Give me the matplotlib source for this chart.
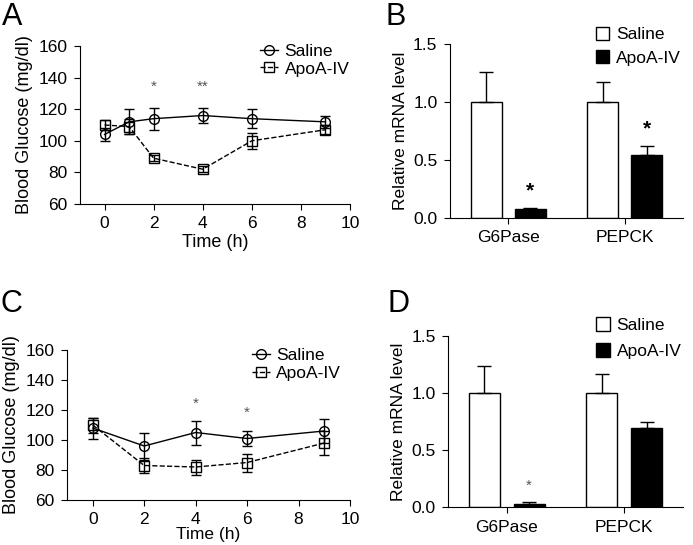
import matplotlib
matplotlib.use("Agg")
import matplotlib.pyplot as plt
from matplotlib.lines import Line2D
import numpy as np

plt.rcParams['font.family'] = ['Liberation Sans', 'DejaVu Sans']

# Panel A: blood glucose time course
t_a = [0, 1, 2, 4, 6, 9]
sal_a = [104, 112, 114, 116, 114, 112]
sal_a_err = [4, 8, 7, 5, 6, 4]
apo_a = [110, 109, 89, 82, 100, 107]
apo_a_err = [3, 5, 2, 2, 5, 3]
star_a_x = [2, 4]
star_a_txt = ['*', '**']
star_a_y = [134, 134]

# Panel C: blood glucose time course
t_c = [0, 2, 4, 6, 9]
sal_c = [108, 96, 105, 101, 106]
sal_c_err = [7, 9, 8, 5, 8]
apo_c = [110, 83, 82, 85, 98]
apo_c_err = [5, 5, 5, 6, 8]
star_c_x = [4, 6]
star_c_txt = ['*', '*']
star_c_y = [124, 118]

# Panels B and D: mRNA levels
genes = ['G6Pase', 'PEPCK']
sal_b = [1.0, 1.0]
sal_b_err = [0.26, 0.17]
apo_b = [0.08, 0.54]
apo_b_err = [0.005, 0.08]
star_b = ['*', '*']

sal_d = [1.0, 1.0]
sal_d_err = [0.24, 0.17]
apo_d = [0.03, 0.69]
apo_d_err = [0.01, 0.06]
star_d = ['*', '']

W, H = 693, 545
fig = plt.figure(figsize=(W / 100, H / 100), dpi=100)


def px_rect(l, r, t, b):
    return [l / W, 1 - b / H, (r - l) / W, (b - t) / H]


def letter(s, x, y):
    fig.text(x / W, 1 - y / H, s, fontsize=22, va='baseline', ha='left')


def style(ax):
    ax.spines['top'].set_visible(False)
    ax.spines['right'].set_visible(False)
    ax.tick_params(direction='out', labelsize=12.5, length=4, pad=5)


def time_panel(rect, t, sal, sal_err, apo, apo_err, sx, stxt, sy, lx, ly, xpad, xfs):
    ax = fig.add_axes(rect)
    ax.errorbar(t, sal, yerr=sal_err, color='k', lw=1, marker='o', ms=7,
                mfc='none', mec='k', capsize=3.5, elinewidth=1)
    ax.errorbar(t, apo, yerr=apo_err, color='k', lw=1, ls='--', marker='s', ms=7,
                mfc='none', mec='k', capsize=3.5, elinewidth=1)
    for x, s, y in zip(sx, stxt, sy):
        ax.text(x, y, s, ha='center', va='center', fontsize=11, color='#555555')
    ax.set_xlim(-1, 10)
    ax.set_ylim(60, 160)
    ax.set_xticks([0, 2, 4, 6, 8, 10])
    ax.set_yticks([60, 80, 100, 120, 140, 160])
    ax.set_xlabel('Time (h)', fontsize=xfs, labelpad=xpad)
    ax.set_ylabel('Blood Glucose (mg/dl)', fontsize=13, labelpad=4)
    style(ax)
    handles = [Line2D([], [], color='k', lw=1, marker='o', ms=7, mfc='none'),
               Line2D([], [], color='k', lw=1, ls='--', marker='s', ms=7, mfc='none')]
    ax.legend(handles, ['Saline', 'ApoA-IV'], frameon=False, fontsize=12.5,
              loc='upper right', bbox_to_anchor=(lx, ly), handlelength=1.0,
              handletextpad=0.4, borderpad=0, labelspacing=0.15)
    return ax


def bar_panel(rect, sal, sal_err, apo, apo_err, stars, bold, ly, spacing):
    ax = fig.add_axes(rect)
    x = np.arange(len(genes))
    w = 0.265
    off = 0.19
    ax.bar(x - off, sal, w, color='white', edgecolor='k', lw=1, label='Saline',
           yerr=[np.zeros(len(sal)), sal_err], capsize=5, error_kw=dict(lw=1, capthick=1))
    ax.bar(x + off, apo, w, color='black', edgecolor='k', lw=1, label='ApoA-IV',
           yerr=[np.zeros(len(apo)), apo_err], capsize=5, error_kw=dict(lw=1, capthick=1))
    for i, s in enumerate(stars):
        if s:
            ax.text(x[i] + off, apo[i] + apo_err[i] + 0.15, s, ha='center', va='center',
                    fontsize=15 if bold else 11, fontweight='bold' if bold else 'normal',
                    color='k' if bold else '#555555')
    ax.set_xlim(-0.5, 1.5)
    ax.set_ylim(0, 1.5)
    ax.set_xticks(x)
    ax.set_xticklabels(genes, fontsize=12.5)
    ax.set_yticks([0, 0.5, 1.0, 1.5])
    ax.set_yticklabels(['0.0', '0.5', '1.0', '1.5'])
    ax.set_ylabel('Relative mRNA level', fontsize=12.5, labelpad=4)
    style(ax)
    ax.legend(frameon=False, fontsize=12.5, loc='upper right', bbox_to_anchor=(1.03, ly),
              handlelength=0.8, handleheight=0.8, handletextpad=0.4, borderpad=0,
              labelspacing=spacing)
    return ax


time_panel(px_rect(80, 350, 46, 204), t_a, sal_a, sal_a_err, apo_a, apo_a_err,
           star_a_x, star_a_txt, star_a_y, 1.03, 1.07, 2, 13)
bar_panel(px_rect(450, 683, 44, 218), sal_b, sal_b_err, apo_b, apo_b_err, star_b, True, 1.15, 0.45)
time_panel(px_rect(67, 350, 350, 500), t_c, sal_c, sal_c_err, apo_c, apo_c_err,
           star_c_x, star_c_txt, star_c_y, 1.0, 1.07, 0, 12.5)
bar_panel(px_rect(448, 683, 336, 507), sal_d, sal_d_err, apo_d, apo_d_err, star_d, False, 1.16, 0.6)

letter('A', 2, 25)
letter('B', 385, 25)
letter('C', 1, 312)
letter('D', 387, 312)

fig.savefig('out.png', dpi=100)
